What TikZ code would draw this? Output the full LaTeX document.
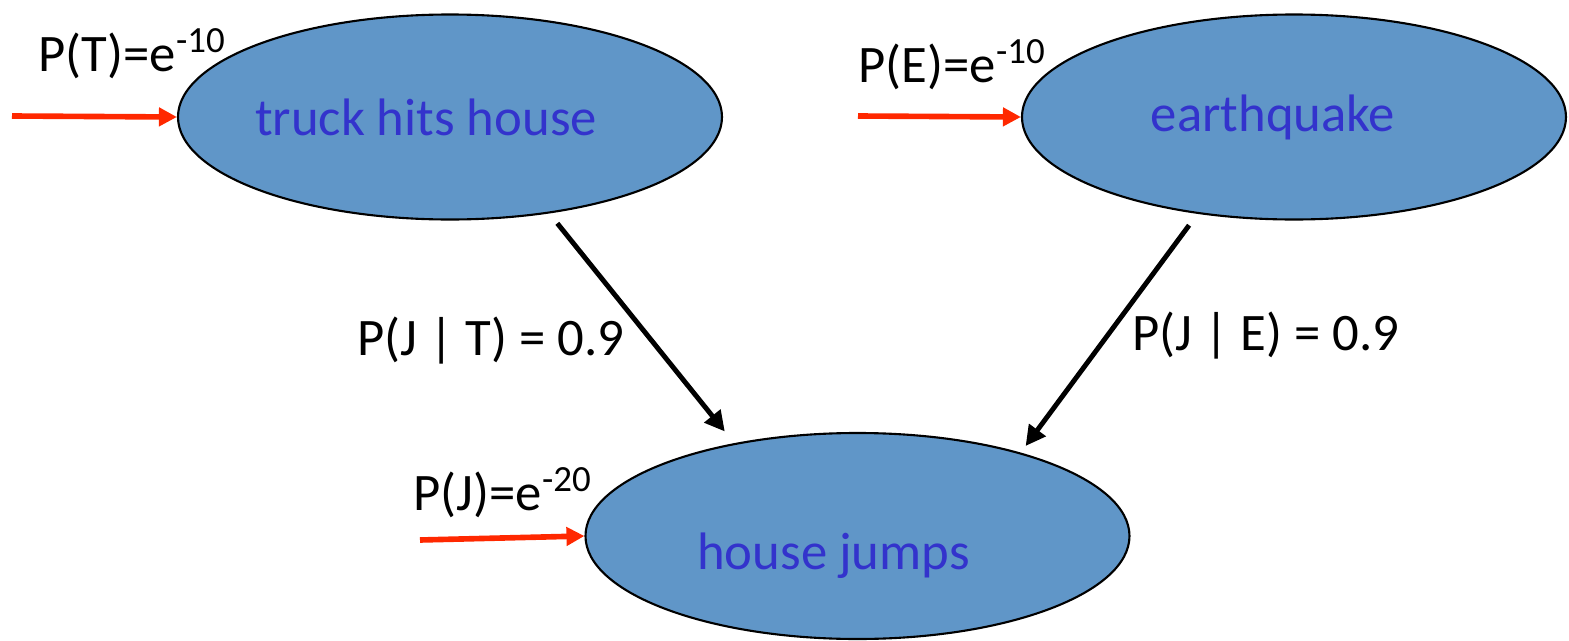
\documentclass[tikz,border=0pt]{standalone}
\usepackage{fontspec}
\setmainfont{Carlito}
\usetikzlibrary{positioning,arrows.meta,shapes.geometric}
\definecolor{nodefill}{RGB}{96,150,200}
\definecolor{nodetext}{RGB}{51,51,204}
\definecolor{priorred}{RGB}{255,40,0}

\begin{document}
\begin{tikzpicture}[
    event/.style={ellipse,draw,line width=0.6pt,fill=nodefill,inner sep=0pt,minimum width=5.44cm,minimum height=2.05cm},
    evtext/.style={text=nodetext,font=\fontsize{15}{18}\selectfont},
    prob/.style={font=\fontsize{15}{18}\selectfont,anchor=base west,inner sep=0pt},
    prior/.style={-{Triangle[length=0.18cm,width=0.18cm]},line width=1.6pt,draw=priorred},
    arrow/.style={-{Triangle[length=0.2cm,width=0.2cm]},line width=1.4pt},
]
\useasboundingbox (0,0) rectangle (15.69,6.40);

\node[event,label={[evtext,xshift=-0.24cm]center:truck hits house}] (truck) at (4.50,5.23) {};
\node[event,label={[evtext,xshift=-0.21cm]center:earthquake}]       (quake) at (12.94,5.23) {};
\node[event,minimum height=2.06cm,label={[evtext,xshift=-0.24cm,yshift=-0.2cm]center:house jumps}] (jumps) at (8.575,1.04) {};

% priors
\coordinate (tin) at (0.12,5.24);
\coordinate (ein) at (8.58,5.24);
\coordinate (jin) at (4.20,1.00);
\draw[prior] (tin) -- (truck.west);
\draw[prior] (ein) -- (quake.west);
\draw[prior] (jin) -- (jumps.west);
\node[prob] (pt) at (0.38,5.69) {P(T)=e\textsuperscript{-10}};
\node[prob] (pe) at (8.58,5.58) {P(E)=e\textsuperscript{-10}};
\node[prob] (pj) at (4.13,1.30) {P(J)=e\textsuperscript{-20}};

% conditionals
\draw[arrow] ([shift={(0.105,-0.095)}]truck.-45) -- ([shift={(-0.13,0.11)}]jumps.142.7);
\draw[arrow] ([shift={(-0.11,-0.11)}]quake.-134) -- ([shift={(0,0.08)}]jumps.26);
\node[prob] (pjt) at (3.57,2.85) {P(J | T) = 0.9};
\node[prob] (pje) at (11.32,2.90) {P(J | E) = 0.9};
\end{tikzpicture}
\end{document}
